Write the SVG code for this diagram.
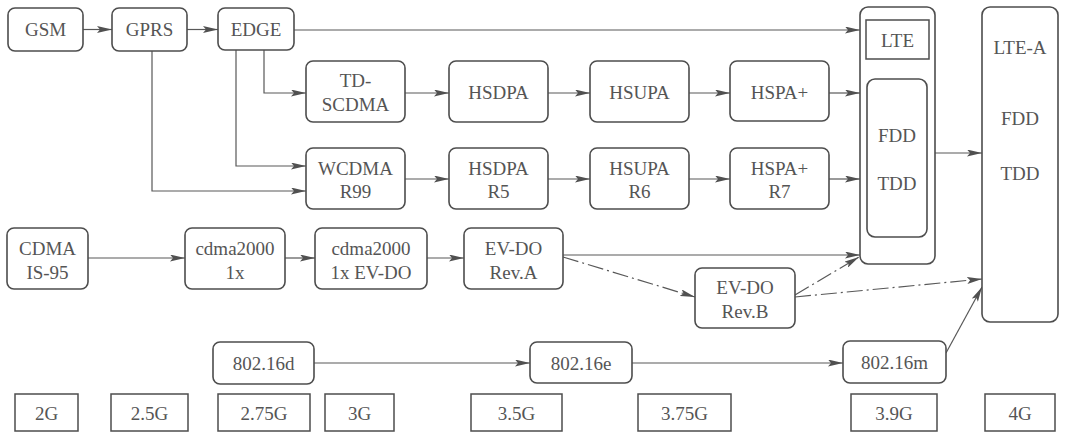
<svg xmlns="http://www.w3.org/2000/svg" width="1065" height="434" viewBox="0 0 1065 434">
  <style>
    .box { fill: #ffffff; stroke: #4d4d4d; stroke-width: 1.6; }
    .tag { fill: #ffffff; stroke: #4d4d4d; stroke-width: 1.5; }
    .t { font-family: "Liberation Serif", "Times New Roman", serif; font-size: 19px; fill: #555555; text-anchor: middle; dominant-baseline: central; }
    .ln { fill: none; stroke: #585858; stroke-width: 1.2; }
    .dd { stroke-dasharray: 16 4 2 4; }
  </style>
  <defs>
    <marker id="ah" viewBox="0 0 15 7" refX="15" refY="3.5" markerWidth="15" markerHeight="7" markerUnits="userSpaceOnUse" orient="auto">
      <path d="M0,0 L15,3.5 L0,7 L3,3.5 z" fill="#505050"/>
    </marker>
  </defs>
  <rect x="0" y="0" width="1065" height="434" fill="#ffffff"/>

  <!-- connectors -->
  <g id="connectors">
    <!-- GSM family -->
    <line class="ln" x1="83" y1="29.5" x2="112" y2="29.5" marker-end="url(#ah)"/>
    <line class="ln" x1="187" y1="29.5" x2="218" y2="29.5" marker-end="url(#ah)"/>
    <line class="ln" x1="294" y1="30" x2="860" y2="30" marker-end="url(#ah)"/>
    <polyline class="ln" points="264,50 264,93 306,93" marker-end="url(#ah)"/>
    <polyline class="ln" points="236,50 236,166 306,166" marker-end="url(#ah)"/>
    <polyline class="ln" points="152,51 152,191 306,191" marker-end="url(#ah)"/>
    <!-- TD-SCDMA chain -->
    <line class="ln" x1="405" y1="93" x2="449" y2="93" marker-end="url(#ah)"/>
    <line class="ln" x1="548" y1="93" x2="590" y2="93" marker-end="url(#ah)"/>
    <line class="ln" x1="689" y1="93" x2="730" y2="93" marker-end="url(#ah)"/>
    <line class="ln" x1="829" y1="93" x2="860" y2="93" marker-end="url(#ah)"/>
    <!-- WCDMA chain -->
    <line class="ln" x1="405" y1="179" x2="449" y2="179" marker-end="url(#ah)"/>
    <line class="ln" x1="548" y1="179" x2="590" y2="179" marker-end="url(#ah)"/>
    <line class="ln" x1="689" y1="179" x2="730" y2="179" marker-end="url(#ah)"/>
    <line class="ln" x1="829" y1="179" x2="860" y2="179" marker-end="url(#ah)"/>
    <!-- LTE to LTE-A -->
    <line class="ln" x1="935" y1="153" x2="982" y2="153" marker-end="url(#ah)"/>
    <!-- CDMA chain -->
    <line class="ln" x1="88" y1="258" x2="185" y2="258" marker-end="url(#ah)"/>
    <line class="ln" x1="285" y1="258" x2="315" y2="258" marker-end="url(#ah)"/>
    <line class="ln" x1="427" y1="258" x2="464" y2="258" marker-end="url(#ah)"/>
    <line class="ln" x1="563" y1="255" x2="860" y2="255" marker-end="url(#ah)"/>
    <line class="ln dd" x1="563" y1="257" x2="695" y2="297" marker-end="url(#ah)"/>
    <line class="ln dd" x1="795" y1="295" x2="859" y2="257" marker-end="url(#ah)"/>
    <line class="ln dd" x1="795" y1="297" x2="982" y2="279" marker-end="url(#ah)"/>
    <!-- 802.16 chain -->
    <line class="ln" x1="314" y1="363" x2="530" y2="363" marker-end="url(#ah)"/>
    <line class="ln" x1="632" y1="363" x2="843" y2="363" marker-end="url(#ah)"/>
    <line class="ln" x1="946" y1="353" x2="982" y2="287" marker-end="url(#ah)"/>
  </g>

  <!-- GSM row -->
  <g id="gsm"><rect class="box" x="8" y="8" width="75" height="43" rx="7"/><text class="t" x="45.5" y="29.5">GSM</text></g>
  <g id="gprs"><rect class="box" x="112" y="8" width="75" height="43" rx="7"/><text class="t" x="149.5" y="29.5">GPRS</text></g>
  <g id="edge"><rect class="box" x="218" y="8" width="76" height="42" rx="7"/><text class="t" x="256" y="29">EDGE</text></g>

  <!-- TD-SCDMA row -->
  <g id="td-scdma"><rect class="box" x="306" y="61" width="99" height="61" rx="7"/><text class="t" x="355.5" y="80">TD-</text><text class="t" x="355.5" y="104">SCDMA</text></g>
  <g id="hsdpa"><rect class="box" x="449" y="61" width="99" height="61" rx="7"/><text class="t" x="498.5" y="92">HSDPA</text></g>
  <g id="hsupa"><rect class="box" x="590" y="61" width="99" height="61" rx="7"/><text class="t" x="639.5" y="92">HSUPA</text></g>
  <g id="hspa-plus"><rect class="box" x="730" y="61" width="99" height="60" rx="7"/><text class="t" x="779.5" y="92">HSPA+</text></g>

  <!-- WCDMA row -->
  <g id="wcdma-r99"><rect class="box" x="306" y="148" width="99" height="61" rx="7"/><text class="t" x="355.5" y="168">WCDMA</text><text class="t" x="355.5" y="191">R99</text></g>
  <g id="hsdpa-r5"><rect class="box" x="449" y="148" width="99" height="61" rx="7"/><text class="t" x="498.5" y="168">HSDPA</text><text class="t" x="498.5" y="191">R5</text></g>
  <g id="hsupa-r6"><rect class="box" x="590" y="148" width="99" height="61" rx="7"/><text class="t" x="639.5" y="168">HSUPA</text><text class="t" x="639.5" y="191">R6</text></g>
  <g id="hspa-plus-r7"><rect class="box" x="730" y="148" width="99" height="61" rx="7"/><text class="t" x="779.5" y="168">HSPA+</text><text class="t" x="779.5" y="191">R7</text></g>

  <!-- LTE block -->
  <g id="lte">
    <rect class="box" x="860" y="7" width="75" height="257" rx="8"/>
    <rect class="tag" x="866" y="20" width="63" height="39"/>
    <text class="t" x="897.5" y="40">LTE</text>
    <rect class="box" x="867" y="79" width="60" height="158" rx="8"/>
    <text class="t" x="897" y="135">FDD</text>
    <text class="t" x="897" y="183">TDD</text>
  </g>

  <!-- LTE-A block -->
  <g id="lte-a">
    <rect class="box" x="982" y="7" width="76" height="315" rx="8"/>
    <text class="t" x="1020" y="47">LTE-A</text>
    <text class="t" x="1020" y="118">FDD</text>
    <text class="t" x="1020" y="173">TDD</text>
  </g>

  <!-- CDMA row -->
  <g id="cdma-is95"><rect class="box" x="7" y="228" width="81" height="61" rx="7"/><text class="t" x="47.5" y="248">CDMA</text><text class="t" x="47.5" y="272">IS-95</text></g>
  <g id="cdma2000-1x"><rect class="box" x="185" y="228" width="100" height="61" rx="7"/><text class="t" x="235" y="248">cdma2000</text><text class="t" x="235" y="272">1x</text></g>
  <g id="cdma2000-evdo"><rect class="box" x="315" y="228" width="112" height="61" rx="7"/><text class="t" x="371" y="248">cdma2000</text><text class="t" x="371" y="272">1x EV-DO</text></g>
  <g id="evdo-rev-a"><rect class="box" x="464" y="228" width="99" height="61" rx="7"/><text class="t" x="513.5" y="248">EV-DO</text><text class="t" x="513.5" y="272">Rev.A</text></g>
  <g id="evdo-rev-b"><rect class="box" x="695" y="268" width="100" height="60" rx="7"/><text class="t" x="745" y="287">EV-DO</text><text class="t" x="745" y="311">Rev.B</text></g>

  <!-- 802.16 row -->
  <g id="wimax-d"><rect class="box" x="213" y="342" width="101" height="42" rx="7"/><text class="t" x="263.5" y="363">802.16d</text></g>
  <g id="wimax-e"><rect class="box" x="530" y="342" width="102" height="41" rx="7"/><text class="t" x="581" y="363">802.16e</text></g>
  <g id="wimax-m"><rect class="box" x="843" y="341" width="103" height="42" rx="7"/><text class="t" x="894.5" y="362">802.16m</text></g>

  <!-- generation labels -->
  <g id="gen-2g"><rect class="tag" x="15" y="394" width="63" height="37"/><text class="t" x="46.5" y="413">2G</text></g>
  <g id="gen-2-5g"><rect class="tag" x="111" y="394" width="77" height="37"/><text class="t" x="149.5" y="413">2.5G</text></g>
  <g id="gen-2-75g"><rect class="tag" x="218" y="394" width="92" height="37"/><text class="t" x="264" y="413">2.75G</text></g>
  <g id="gen-3g"><rect class="tag" x="325" y="394" width="69" height="37"/><text class="t" x="359.5" y="413">3G</text></g>
  <g id="gen-3-5g"><rect class="tag" x="471" y="394" width="91" height="37"/><text class="t" x="516.5" y="413">3.5G</text></g>
  <g id="gen-3-75g"><rect class="tag" x="638" y="394" width="93" height="37"/><text class="t" x="684.5" y="413">3.75G</text></g>
  <g id="gen-3-9g"><rect class="tag" x="851" y="394" width="86" height="37"/><text class="t" x="894" y="413">3.9G</text></g>
  <g id="gen-4g"><rect class="tag" x="985" y="394" width="70" height="37"/><text class="t" x="1020" y="413">4G</text></g>
</svg>
